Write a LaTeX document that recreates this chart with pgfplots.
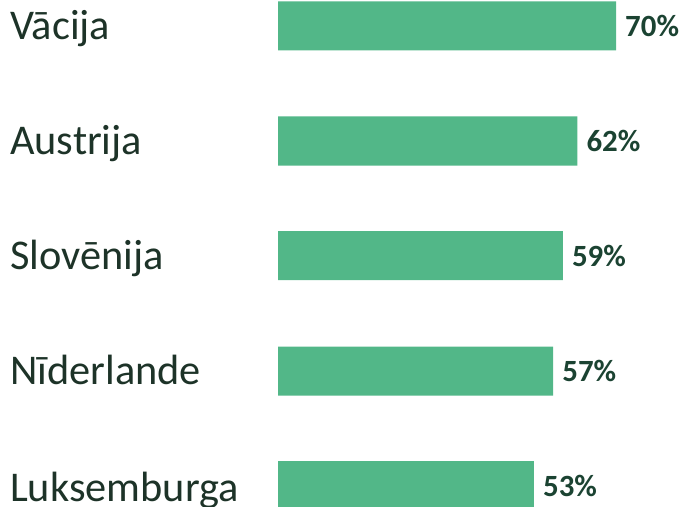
\documentclass[border=0pt]{standalone}
\usepackage{pgfplots}
\pgfplotsset{compat=1.18}
\usepackage{fontspec}
\setmainfont{Carlito}
\definecolor{barc}{HTML}{52B788}
\definecolor{labc}{HTML}{1D3328}
\definecolor{valc}{HTML}{1B4332}
\begin{document}
\begin{tikzpicture}
\clip (0,0) rectangle (687bp,507bp);
\begin{axis}[
  at={(0,0)}, anchor=south west,
  scale only axis, width=687bp, height=507bp,
  xmin=-57.574, xmax=84.704,
  ymin=0, ymax=507, y dir=reverse,
  axis line style={draw=none}, ticks=none,
  xbar, bar width=49, bar shift=0pt,
  clip=false,
  /pgf/number format/assume math mode=true,
]
\addplot[fill=barc, draw=none,
  nodes near coords={\pgfmathprintnumber{\pgfplotspointmeta}\%},
  point meta=x,
  nodes near coords style={anchor=west, xshift=9bp, font=\fontsize{31}{31}\selectfont\bfseries, text=valc, inner sep=0pt},
] coordinates {(70,26) (62,141) (59,255.5) (57,371) (53,485.5)};
\node[anchor=base west, inner sep=0pt, font=\fontsize{42.5}{42.5}\selectfont, text=labc] at (axis cs:-57.574,26) [yshift=-13.5bp, xshift=10bp] {Vācija};
\node[anchor=base west, inner sep=0pt, font=\fontsize{42.5}{42.5}\selectfont, text=labc] at (axis cs:-57.574,141) [yshift=-13.5bp, xshift=10bp] {Austrija};
\node[anchor=base west, inner sep=0pt, font=\fontsize{42.5}{42.5}\selectfont, text=labc] at (axis cs:-57.574,255.5) [yshift=-13.5bp, xshift=10bp] {Slovēnija};
\node[anchor=base west, inner sep=0pt, font=\fontsize{42.5}{42.5}\selectfont, text=labc] at (axis cs:-57.574,371) [yshift=-13.5bp, xshift=10bp] {Nīderlande};
\node[anchor=base west, inner sep=0pt, font=\fontsize{42.5}{42.5}\selectfont, text=labc] at (axis cs:-57.574,485.5) [yshift=-16bp, xshift=10bp] {Luksemburga};
\end{axis}
\end{tikzpicture}
\end{document}
